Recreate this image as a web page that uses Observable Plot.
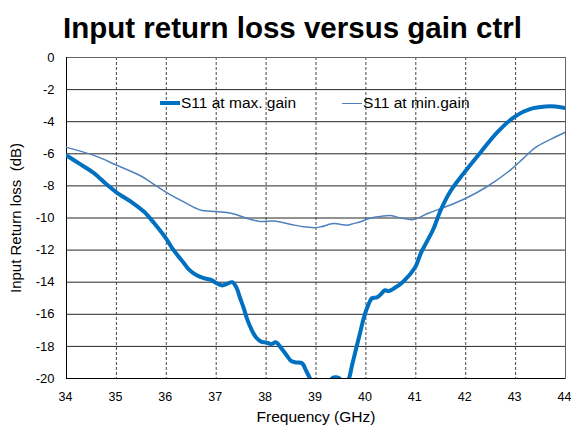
<!DOCTYPE html>
<html>
<head>
<meta charset="utf-8">
<script src="https://cdn.jsdelivr.net/npm/d3@7"></script>
<script src="https://cdn.jsdelivr.net/npm/@observablehq/plot@0.6"></script>
<style>
  html, body { margin: 0; padding: 0; background: #fff; }
  #wrap { position: relative; width: 571px; height: 426px; font-family: "Liberation Sans", Arial, sans-serif; }
  #title { height: 45px; line-height: 55px; text-align: center; font-weight: bold; font-size: 29.5px; color: #000; padding-left: 14px; box-sizing: border-box; white-space: nowrap; overflow: visible; }
  .leg { position: absolute; display: flex; align-items: center; font-size: 15.5px; color: #000; white-space: pre; height: 18px; }
  .leg span.sw { display: inline-block; width: 20px; margin-right: 1px; }
  svg text { white-space: pre; }
</style>
</head>
<body>
<div id="wrap">
  <div id="title">Input return loss versus gain ctrl</div>
  <div id="chart"></div>
  <div class="leg" id="leg1" style="left:160px; top:94px;"><span class="sw" style="border-top:4px solid #0070C0;"></span>S11 at max. gain</div>
  <div class="leg" id="leg2" style="left:342px; top:94px;"><span class="sw" style="border-top:1.5px solid #4F81BD;"></span>S11 at min.gain</div>
</div>
<script>
const seriesNames = ["S11 at max. gain", "S11 at min.gain"];
const xTicks = [34, 35, 36, 37, 38, 39, 40, 41, 42, 43, 44];
const yTicks = [0, -2, -4, -6, -8, -10, -12, -14, -16, -18, -20];

const freqMax = [34.00, 34.25, 34.55, 34.80, 35.00, 35.30, 35.55, 35.75, 36.00, 36.10, 36.22, 36.35, 36.45, 36.60, 36.75, 36.90, 37.00, 37.12, 37.22, 37.32, 37.40, 37.48, 37.55, 37.62, 37.70, 37.80, 37.90, 38.00, 38.10, 38.20, 38.30, 38.40, 38.50, 38.60, 38.72, 38.80, 38.88, 38.95, 39.10, 39.25, 39.32, 39.38, 39.45, 39.50, 39.58, 39.66, 39.72, 39.80, 39.88, 39.96, 40.05, 40.12, 40.22, 40.30, 40.38, 40.46, 40.58, 40.70, 40.80, 40.90, 41.00, 41.10, 41.20, 41.35, 41.50, 41.70, 41.95, 42.30, 42.65, 43.00, 43.30, 43.60, 43.80, 44.00];
const s11Max = [-6.1, -6.6, -7.2, -7.9, -8.4, -9.0, -9.6, -10.3, -11.3, -11.8, -12.3, -12.8, -13.2, -13.55, -13.75, -13.85, -14.05, -14.2, -14.1, -14.0, -14.3, -15.0, -15.6, -16.3, -16.9, -17.45, -17.7, -17.75, -17.85, -17.75, -18.1, -18.5, -18.9, -19.0, -19.05, -19.5, -20.0, -20.5, -20.7, -20.4, -20.0, -19.92, -19.95, -20.1, -20.4, -20.0, -19.2, -18.2, -17.2, -16.2, -15.4, -15.0, -14.95, -14.75, -14.5, -14.55, -14.35, -14.1, -13.8, -13.45, -13.0, -12.2, -11.6, -10.7, -9.5, -8.3, -7.25, -5.9, -4.6, -3.65, -3.2, -3.05, -3.05, -3.15];

const freqMin = [34.00, 34.55, 35.00, 35.50, 35.70, 36.00, 36.35, 36.68, 37.00, 37.30, 37.60, 37.85, 38.20, 38.50, 38.75, 38.98, 39.10, 39.35, 39.50, 39.62, 39.75, 39.88, 40.10, 40.30, 40.50, 40.70, 40.95, 41.25, 41.60, 41.95, 42.40, 42.90, 43.15, 43.40, 43.70, 44.00];
const s11Min = [-5.6, -6.1, -6.7, -7.4, -7.8, -8.4, -9.0, -9.5, -9.6, -9.7, -10.0, -10.2, -10.2, -10.4, -10.55, -10.6, -10.55, -10.35, -10.4, -10.45, -10.35, -10.25, -10.0, -9.9, -9.85, -10.0, -10.1, -9.7, -9.3, -8.85, -8.1, -7.0, -6.3, -5.6, -5.1, -4.65];

const maxData = freqMax.map((f, i) => ({f, v: s11Max[i], s: seriesNames[0]}));
const minData = freqMin.map((f, i) => ({f, v: s11Min[i], s: seriesNames[1]}));

const fmt = d => String(d);

const chart = Plot.plot({
  width: 571,
  height: 381,
  marginLeft: 66,
  marginRight: 6,
  marginTop: 12,
  marginBottom: 48,
  x: {domain: [34, 44]},
  y: {domain: [-20, 0]},
  style: {fontFamily: "'Liberation Sans', Arial, sans-serif", fontSize: "13px", color: "#000", background: "#fff"},
  marks: [
    Plot.gridY(yTicks, {stroke: "#000", strokeOpacity: 0.85, strokeWidth: 1}),
    Plot.gridX(xTicks, {stroke: "#333", strokeOpacity: 0.9, strokeDasharray: "3,2"}),
    Plot.frame({stroke: "#666"}),
    Plot.ruleX([34], {stroke: "#000"}),
    Plot.ruleY([-20], {stroke: "#000"}),
    Plot.axisX(xTicks, {tickSize: 0, tickPadding: 14, fontSize: 12.5, dx: -1, tickFormat: fmt, label: null}),
    Plot.axisX({ticks: [], label: "Frequency (GHz)", labelAnchor: "center", labelArrow: "none", labelOffset: 43, fontSize: 15.5, tickSize: 0}),
    Plot.axisY(yTicks, {tickSize: 0, tickPadding: 12, fontSize: 13, tickFormat: fmt, label: null}),
    Plot.axisY({ticks: [], label: "Input Return loss  (dB)", labelAnchor: "center", labelArrow: "none", labelOffset: 56, fontSize: 15, tickSize: 0}),
    Plot.line(minData, {x: "f", y: "v", stroke: "#4F81BD", strokeWidth: 1.5, curve: "catmull-rom", clip: true}),
    Plot.line(maxData, {x: "f", y: "v", stroke: "#0070C0", strokeWidth: 4, curve: "catmull-rom", clip: true})
  ]
});
document.getElementById("chart").appendChild(chart);
</script>
</body>
</html>
